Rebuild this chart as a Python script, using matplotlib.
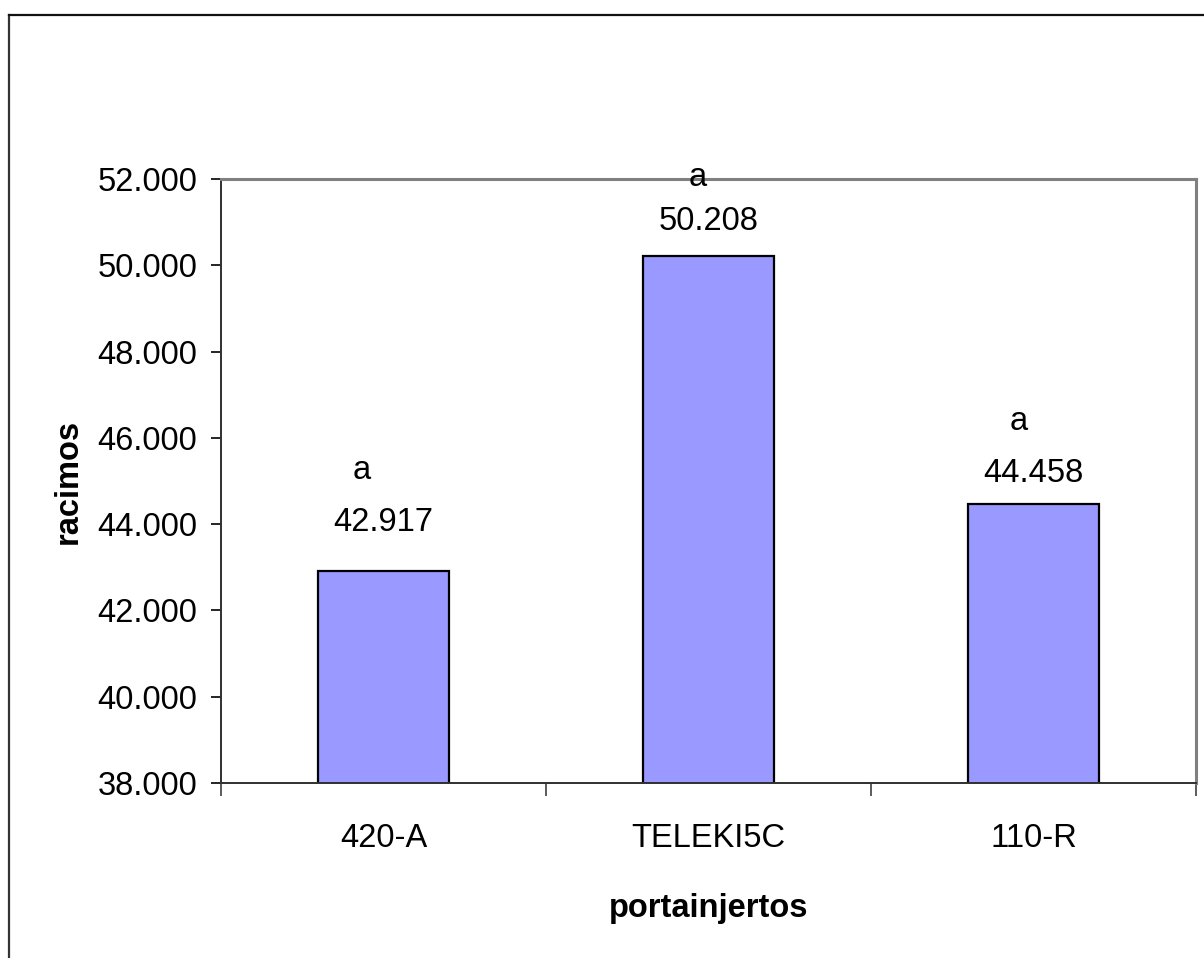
import matplotlib
matplotlib.use("Agg")
import matplotlib.pyplot as plt
from matplotlib.lines import Line2D
from matplotlib.ticker import FixedLocator, FuncFormatter

plt.rcParams['font.family'] = ['Liberation Sans', 'DejaVu Sans']

categories = ["420-A", "TELEKI5C", "110-R"]
values = [42.917, 50.208, 44.458]
letters = ["a", "a", "a"]
value_labels = ["42.917", "50.208", "44.458"]
yticks = [38, 40, 42, 44, 46, 48, 50, 52]

W, H = 1204, 958
fig = plt.figure(figsize=(W / 100, H / 100), dpi=100)
ax = fig.add_axes([221 / W, 1 - 783 / H, (1196 - 221) / W, (783 - 179) / H])

x = list(range(len(categories)))
ax.bar(x, values, width=0.405, color="#9999FF", edgecolor="black", linewidth=1.6, zorder=2)

ax.set_xlim(-0.5, len(categories) - 0.5)
ax.set_ylim(38, 52)
ax.set_yticks(yticks)
ax.yaxis.set_major_formatter(FuncFormatter(lambda v, p: f"{v:.3f}"))
ax.tick_params(axis="y", direction="out", length=7, width=1.2, labelsize=23.5, pad=10, colors="black")

ax.xaxis.set_major_locator(FixedLocator([i - 0.5 for i in range(len(categories) + 1)]))
ax.xaxis.set_major_formatter(FuncFormatter(lambda v, p: ""))
ax.xaxis.set_minor_locator(FixedLocator(x))
ax.set_xticklabels(categories, minor=True)
ax.tick_params(axis="x", which="major", direction="out", length=9, width=1.2, color="#404040")
ax.tick_params(axis="x", which="minor", length=0, labelsize=23.5, pad=29)

for s in ["left", "bottom"]:
    ax.spines[s].set_color("#303030")
    ax.spines[s].set_linewidth(1.4)
for s in ["top", "right"]:
    ax.spines[s].set_color("#808080")
    ax.spines[s].set_linewidth(2.2)

ax.set_ylabel("racimos", fontsize=23.5, fontweight="bold", labelpad=10)
ax.set_xlabel("portainjertos", fontsize=23.5, fontweight="bold", labelpad=28)

# label offsets (points above bar top)
val_off = [35, 25, 22]
let_off = [72, 57, 60]
let_dx = [-16, -8, -11]
for i, (v, vl, lt) in enumerate(zip(values, value_labels, letters)):
    ax.annotate(vl, (x[i], v), xytext=(0, val_off[i]), textcoords="offset points",
                ha="center", va="center", fontsize=23.5, clip_on=False)
    ax.annotate(lt, (x[i], v), xytext=(let_dx[i], let_off[i]), textcoords="offset points",
                ha="center", va="center", fontsize=23.5, clip_on=False)

# outer frame (left and top edges visible)
fig.add_artist(Line2D([8.5 / W, 8.5 / W], [0, 1 - 15 / H], transform=fig.transFigure,
                      color="#333333", linewidth=1.6))
fig.add_artist(Line2D([8.5 / W, 1], [1 - 15 / H, 1 - 15 / H], transform=fig.transFigure,
                      color="#111111", linewidth=1.6))

fig.savefig("out.png", dpi=100, facecolor="white")
